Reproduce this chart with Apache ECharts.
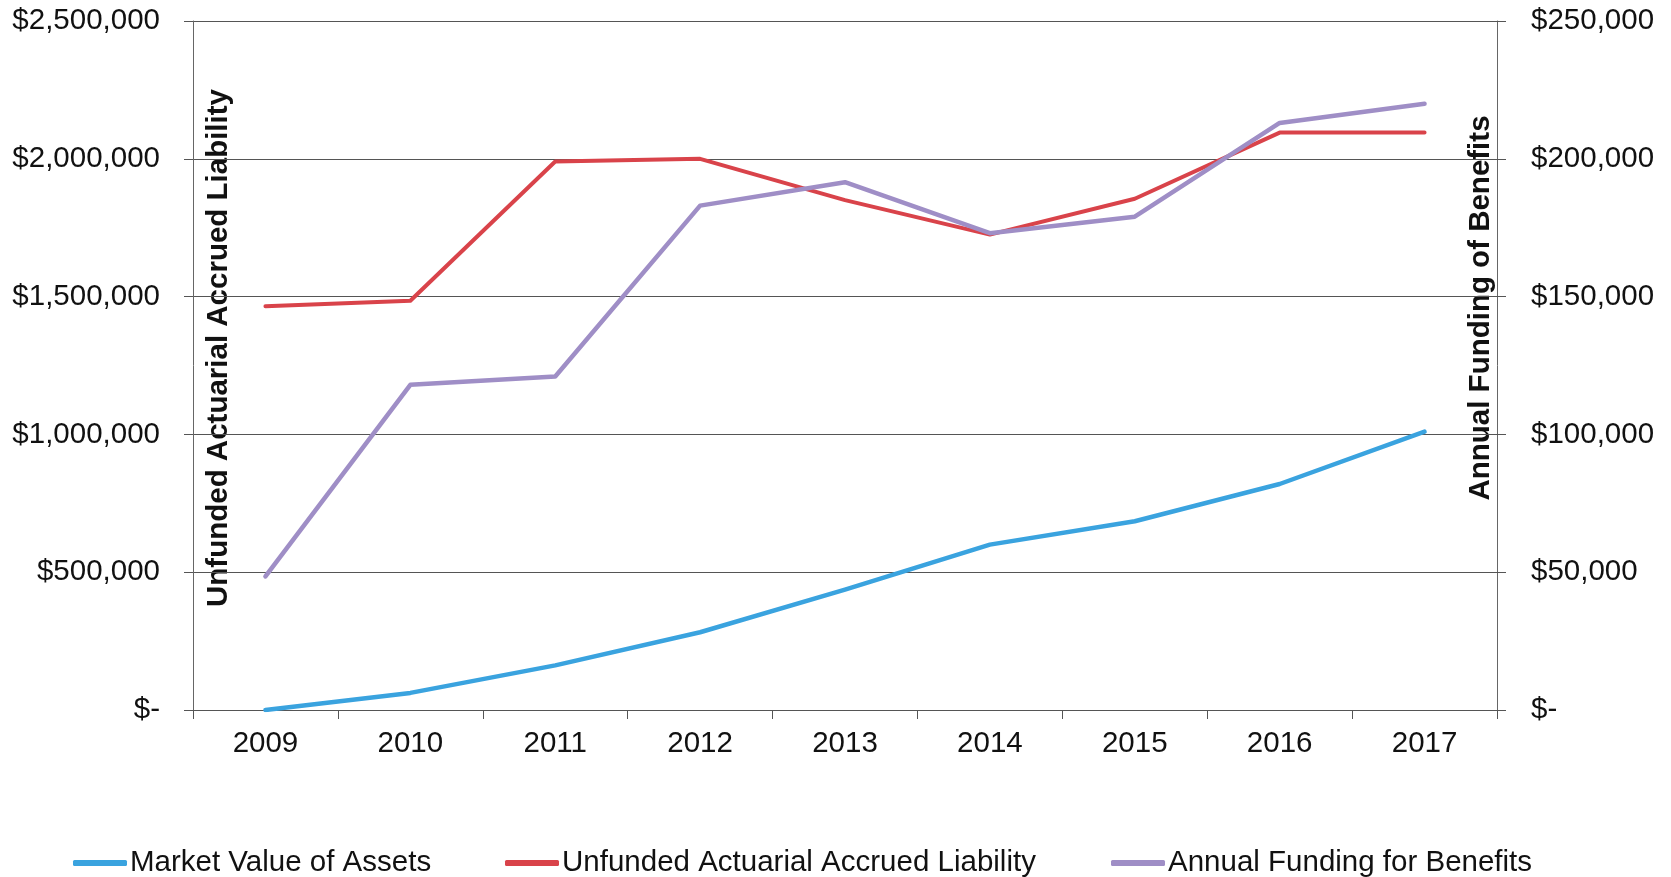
<!DOCTYPE html>
<html>
<head>
<meta charset="utf-8">
<script src="https://cdn.jsdelivr.net/npm/echarts@6/dist/echarts.min.js"></script>
<style>html,body{margin:0;padding:0;background:#fff;}#c{width:1671px;height:877px;}</style>
</head>
<body>
<div id="c"></div>
<script>
const years = ['2009','2010','2011','2012','2013','2014','2015','2016','2017'];
const marketValueOfAssets = [0, 62000, 162000, 282000, 437000, 600000, 685000, 820000, 1010000];
const unfundedLiability = [1465000, 1485000, 1990000, 2000000, 1850000, 1725000, 1855000, 2095000, 2095000];
const annualFunding = [48500, 118000, 121000, 183000, 191500, 173000, 179000, 213000, 220000];
const leftTicks = {min: 0, max: 2500000, interval: 500000};
const rightTicks = {min: 0, max: 250000, interval: 50000};

const FONT = '"Liberation Sans", Arial, sans-serif';
const FS = 29.5;
const money = v => v === 0 ? '$-' : '$' + v.toLocaleString('en-US');
const chart = echarts.init(document.getElementById('c'), null, {renderer: 'canvas'});

const legendBase = (name, left) => ({
  data: [name], left: left, top: 843, icon: 'roundRect', itemWidth: 54, itemHeight: 6,
  textStyle: {fontSize: FS, fontFamily: FONT, color: '#111', padding: [0,0,0,-2]},
  selectedMode: false
});

chart.setOption({
  animation: false,
  backgroundColor: '#fff',
  grid: {left: 193, right: 174, top: 21, bottom: 167, containLabel: false},
  legend: [
    legendBase('Market Value of Assets', 68),
    legendBase('Unfunded Actuarial Accrued Liability', 500),
    legendBase('Annual Funding for Benefits', 1106)
  ],
  xAxis: {
    type: 'category', data: years, boundaryGap: true,
    axisLine: {lineStyle: {color: '#555', width: 1}},
    axisTick: {show: true, interval: 0, length: 9, lineStyle: {color: '#555'}},
    axisLabel: {fontSize: FS, fontFamily: FONT, color: '#111', margin: 19}
  },
  yAxis: [
    {
      type: 'value', position: 'left', min: leftTicks.min, max: leftTicks.max, interval: leftTicks.interval,
      axisLine: {show: true, lineStyle: {color: '#666', width: 1}},
      axisTick: {show: true, length: 9, lineStyle: {color: '#555'}},
      splitLine: {show: true, lineStyle: {color: '#555', width: 1}},
      axisLabel: {fontSize: FS, fontFamily: FONT, color: '#111', margin: 33, formatter: money}
    },
    {
      type: 'value', position: 'right', min: rightTicks.min, max: rightTicks.max, interval: rightTicks.interval,
      axisLine: {show: true, lineStyle: {color: '#666', width: 1}},
      axisTick: {show: true, length: 9, lineStyle: {color: '#555'}},
      splitLine: {show: false},
      axisLabel: {fontSize: FS, fontFamily: FONT, color: '#111', margin: 34, formatter: money}
    }
  ],
  graphic: [
    {type: 'text', rotation: Math.PI/2, x: 219, y: 348, style: {text: 'Unfunded Actuarial Accrued Liability', fontSize: FS, fontWeight: 'bold', fontFamily: FONT, fill: '#111', textAlign: 'center', textVerticalAlign: 'middle'}},
    {type: 'text', rotation: Math.PI/2, x: 1481, y: 308, style: {text: 'Annual Funding of Benefits', fontSize: FS, fontWeight: 'bold', fontFamily: FONT, fill: '#111', textAlign: 'center', textVerticalAlign: 'middle'}}
  ],
  series: [
    {name: 'Market Value of Assets', type: 'line', yAxisIndex: 0, data: marketValueOfAssets, showSymbol: false, symbol: 'none',
     itemStyle: {color: '#3aa3df'}, lineStyle: {color: '#3aa3df', width: 4.5, cap: 'round', join: 'round'}},
    {name: 'Unfunded Actuarial Accrued Liability', type: 'line', yAxisIndex: 0, data: unfundedLiability, showSymbol: false, symbol: 'none',
     itemStyle: {color: '#d9434a'}, lineStyle: {color: '#d9434a', width: 4, cap: 'round', join: 'round'}},
    {name: 'Annual Funding for Benefits', type: 'line', yAxisIndex: 1, data: annualFunding, showSymbol: false, symbol: 'none',
     itemStyle: {color: '#9f8ec6'}, lineStyle: {color: '#9f8ec6', width: 4.5, cap: 'round', join: 'round'}}
  ]
});
</script>
</body>
</html>
